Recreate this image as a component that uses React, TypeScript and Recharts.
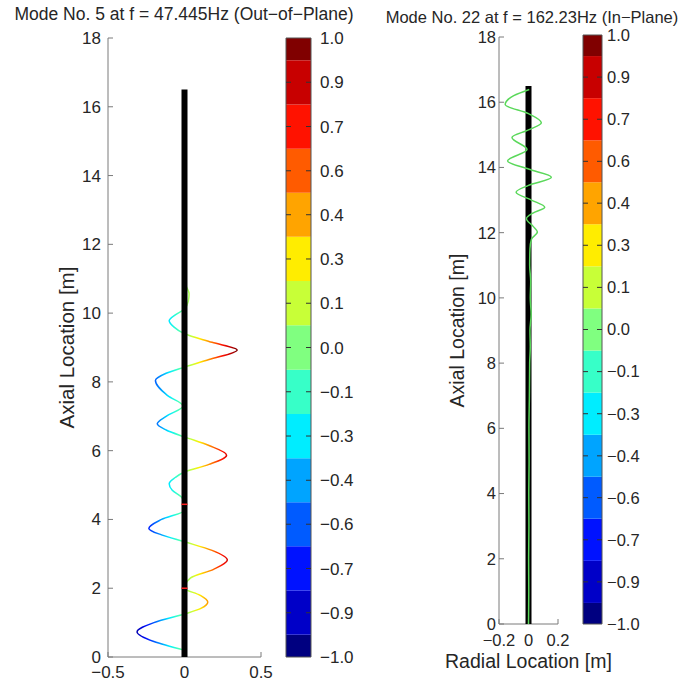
import React from 'react';
import { ScatterChart, Scatter, XAxis, YAxis, ReferenceArea } from 'recharts';

// values
const axialTicks = [0, 2, 4, 6, 8, 10, 12, 14, 16, 18];
const oopRadialTicks = [-0.5, 0, 0.5];
const ipRadialTicks = [-0.2, 0, 0.2];
const colorLevels = [-1, -0.857, -0.714, -0.571, -0.429, -0.286, -0.143, 0, 0.143, 0.286, 0.429, 0.571, 0.714, 0.857, 1];

// mode 5, out-of-plane
const mode5Axial = [0.2, 0.45, 0.73, 1.0, 1.25, 1.42, 1.6, 1.8, 2.0, 2.3, 2.55, 2.82, 3.1, 3.35, 3.55, 3.74, 4.0, 4.27, 4.44, 4.65, 4.85, 5.04, 5.22, 5.38, 5.6, 5.87, 6.15, 6.4, 6.6, 6.78, 7.0, 7.3, 7.6, 8.04, 8.25, 8.43, 8.65, 8.93, 9.15, 9.4, 9.6, 9.78, 9.95, 10.12, 10.35, 10.56, 10.8, 11.0, 11.33, 11.6];
const mode5Radial = [0, -0.2, -0.31, -0.2, 0, 0.11, 0.152, 0.1, 0, 0.04, 0.19, 0.28, 0.18, 0, -0.15, -0.233, -0.15, 0, 0, -0.02, -0.08, -0.1, -0.06, 0, 0.16, 0.275, 0.16, 0, -0.12, -0.178, -0.12, -0.01, -0.11, -0.19, -0.12, 0, 0.16, 0.344, 0.18, 0, -0.07, -0.1, -0.06, 0, 0.025, 0.03, 0.01, 0, -0.012, 0];
const mode5Nodes = [2.0, 4.44];

// mode 22, in-plane
const mode22Axial = [0, 1, 2, 3, 4, 5, 6, 7, 8, 8.5, 9, 9.5, 10, 10.5, 11, 11.5, 11.8, 12.02, 12.2, 12.43, 12.6, 12.78, 13.0, 13.24, 13.45, 13.7, 13.95, 14.2, 14.55, 14.92, 15.15, 15.37, 15.65, 15.93, 16.2, 16.39];
const mode22Radial = [0, 0.002, 0.001, 0.003, 0.002, 0.004, 0.003, 0.006, 0.008, 0.012, 0.01, 0.018, 0.012, 0.015, 0.008, 0.01, 0.02, 0.06, 0.03, -0.014, 0.03, 0.11, 0.02, -0.084, 0, 0.155, 0, -0.142, -0.01, -0.112, 0, 0.087, 0, -0.158, -0.1, 0.005];

const beamAxial = [0, 16.5];

const AXIS = '#7a7a7a';
const INK = '#262626';
const FONT = '"Liberation Sans", Arial, Helvetica, sans-serif';
// jet, one colour per colorbar level (bottom to top)
const JET = ['#000080', '#0000c8', '#0012ff', '#005bff', '#00a4ff', '#00edff', '#37ffc8', '#80ff80', '#c8ff37', '#ffed00', '#ffa400', '#ff5b00', '#ff1200', '#c80000', '#800000'];

const num = (v: number, d?: number) => {
  const s = d == null ? String(Math.abs(v)) : Math.abs(v).toFixed(d);
  return v < 0 ? '\u2212' + s : s;
};

const pts = (ax: number[], rad: number[]) => ax.map((a, i) => ({ axial: a, radial: rad[i] }));
const mode5 = pts(mode5Axial, mode5Radial);
const mode22 = pts(mode22Axial, mode22Radial);
const beam = beamAxial.map((a) => ({ axial: a, radial: 0 }));
const nodes = mode5Nodes.map((a) => ({ axial: a, radial: 0 }));

const hidden = () => <g />;
const redDash = (p: any) => (
  <line x1={p.cx - 3} x2={p.cx + 3} y1={p.cy} y2={p.cy} stroke="#ff2020" strokeWidth={1.5} />
);
// colorbar tick dashes, pointing inward from either edge
const dashRight = (p: any) => <line x1={p.cx} x2={p.cx + 5} y1={p.cy} y2={p.cy} stroke="#333" strokeWidth={1} />;
const dashLeft = (p: any) => <line x1={p.cx - 5} x2={p.cx} y1={p.cy} y2={p.cy} stroke="#333" strokeWidth={1} />;

// gradient across the curve's own bounding box, jet spanning +-max|radial|
const minR = Math.min(...mode5Radial);
const maxR = Math.max(...mode5Radial);
const M = Math.max(Math.abs(minR), Math.abs(maxR));
const gx1 = (-M - minR) / (maxR - minR);
const gx2 = (M - minR) / (maxR - minR);

function frameAxes(o: {
  radialTicks: number[];
  xAxisHeight: number;
  yAxisWidth: number;
  xTickMargin: number;
  yTickMargin: number;
  fontSize: number;
  yLabelSize: number;
  xLabel?: string;
  xLabelSize?: number;
}) {
  const dom = [o.radialTicks[0], o.radialTicks[o.radialTicks.length - 1]];
  const tick = { fontSize: o.fontSize, fill: INK };
  return [
    <XAxis key="xb" xAxisId="b" type="number" dataKey="radial" domain={dom} ticks={o.radialTicks} interval={0}
      tickFormatter={(v) => num(v)} tickSize={-5} tickMargin={o.xTickMargin} tick={tick} stroke={AXIS}
      height={o.xAxisHeight} allowDataOverflow
      label={o.xLabel ? { value: o.xLabel, position: 'insideBottom', offset: 11, style: { fontSize: o.xLabelSize, fill: INK } } : undefined} />,
    <XAxis key="xt" xAxisId="t" orientation="top" type="number" dataKey="radial" domain={dom} ticks={o.radialTicks}
      interval={0} tick={false} tickSize={-5} height={0} stroke={AXIS} allowDataOverflow />,
    <YAxis key="yl" yAxisId="l" type="number" dataKey="axial" domain={[0, 18]} ticks={axialTicks} interval={0}
      tickSize={-5} tickMargin={o.yTickMargin} tick={tick} stroke={AXIS} width={o.yAxisWidth} allowDataOverflow
      label={{ value: 'Axial Location [m]', angle: -90, position: 'center', style: { fontSize: o.yLabelSize, fill: INK } }} />,
    <YAxis key="yr" yAxisId="r" orientation="right" type="number" dataKey="axial" domain={[0, 18]} ticks={axialTicks}
      interval={0} tick={false} tickSize={-5} width={0} stroke={AXIS} allowDataOverflow />,
  ];
}

function ColorBar(p: { left: number; top: number; bottom: number; barLeft: number; barWidth: number; width: number; labelGap: number; fontSize: number }) {
  const edges = colorLevels.map((v, i) => [
    i === 0 ? v : (v + colorLevels[i - 1]) / 2,
    i === colorLevels.length - 1 ? v : (v + colorLevels[i + 1]) / 2,
  ]);
  const inner = colorLevels.slice(1, -1);
  const leftPts = inner.map((v) => ({ x: 0, y: v }));
  const rightPts = inner.map((v) => ({ x: 1, y: v }));
  return (
    <div style={{ position: 'absolute', left: p.left, top: 0 }}>
      <ScatterChart width={p.width} height={679}
        margin={{ top: p.top, bottom: 679 - p.bottom, left: p.barLeft, right: p.width - p.barLeft - p.barWidth - 45 }}>
        <XAxis xAxisId="b" type="number" dataKey="x" domain={[0, 1]} hide />
        <YAxis yAxisId="r" orientation="right" type="number" dataKey="y" domain={[-1, 1]} ticks={colorLevels} interval={0}
          width={45} tickSize={0} axisLine={false} tickLine={false} tickMargin={p.labelGap} tickFormatter={(v) => num(v, 1)}
          tick={{ fontSize: p.fontSize, fill: INK, textAnchor: 'start' }} />
        {edges.map(([lo, hi], i) => (
          <ReferenceArea key={i} xAxisId="b" yAxisId="r" y1={lo} y2={hi} fill={JET[i]} fillOpacity={1} stroke="none" />
        ))}
        <ReferenceArea xAxisId="b" yAxisId="r" y1={-1} y2={1} fill="none" stroke="#555" strokeWidth={1} />
        <Scatter xAxisId="b" yAxisId="r" data={leftPts} dataKey="y" shape={dashRight} isAnimationActive={false} />
        <Scatter xAxisId="b" yAxisId="r" data={rightPts} dataKey="y" shape={dashLeft} isAnimationActive={false} />
      </ScatterChart>
    </div>
  );
}

export default function App() {
  return (
    <div style={{ position: 'absolute', left: 0, top: 0, width: 696, height: 679, background: '#fff', fontFamily: FONT, overflow: 'hidden' }}>
      <div style={{ position: 'absolute', left: 0, top: 4, width: 368, textAlign: 'center', fontSize: 17.5, color: INK, whiteSpace: 'nowrap' }}>
        Mode No. 5 at f = 47.445Hz (Out{'\u2212'}of{'\u2212'}Plane)
      </div>
      <div style={{ position: 'absolute', left: 380, top: 8, width: 304, textAlign: 'center', fontSize: 16.5, color: INK, whiteSpace: 'nowrap' }}>
        Mode No. 22 at f = 162.23Hz (In{'\u2212'}Plane)
      </div>

      {/* out-of-plane mode */}
      <div style={{ position: 'absolute', left: 0, top: 0 }}>
        <ScatterChart width={290} height={679} margin={{ top: 38, right: 29, bottom: 0, left: 26 }}>
          <defs>
            <linearGradient id="jetH" gradientUnits="objectBoundingBox" x1={gx1} x2={gx2} y1={0} y2={0}>
              {JET.map((c, i) => <stop key={i} offset={i / (JET.length - 1)} stopColor={c} />)}
            </linearGradient>
          </defs>
          {frameAxes({ radialTicks: oopRadialTicks, xAxisHeight: 22, yAxisWidth: 82, xTickMargin: 14, yTickMargin: 12, fontSize: 17, yLabelSize: 20.5 })}
          <Scatter xAxisId="b" yAxisId="l" data={mode5} dataKey="axial" shape={hidden} line={{ stroke: 'url(#jetH)', strokeWidth: 1.5 }}
            lineJointType="monotoneY" isAnimationActive={false} />
          <Scatter xAxisId="t" yAxisId="r" data={beam} dataKey="axial" shape={hidden} line={{ stroke: '#000', strokeWidth: 6 }}
            isAnimationActive={false} />
          <Scatter xAxisId="b" yAxisId="l" data={nodes} dataKey="axial" shape={redDash} isAnimationActive={false} />
        </ScatterChart>
      </div>
      <ColorBar left={280} top={38} bottom={657} barLeft={6} barWidth={25} width={90} labelGap={9} fontSize={17} />

      {/* in-plane mode */}
      <div style={{ position: 'absolute', left: 400, top: 0 }}>
        <ScatterChart width={260} height={679} margin={{ top: 37, right: 102, bottom: 0, left: 15 }}>
          {frameAxes({ radialTicks: ipRadialTicks, xAxisHeight: 55, yAxisWidth: 84, xTickMargin: 15, yTickMargin: 8, fontSize: 16.5, yLabelSize: 19.5, xLabel: 'Radial Location [m]', xLabelSize: 19.5 })}
          <Scatter xAxisId="t" yAxisId="r" data={beam} dataKey="axial" shape={hidden} line={{ stroke: '#000', strokeWidth: 6 }}
            isAnimationActive={false} />
          <Scatter xAxisId="b" yAxisId="l" data={mode22} dataKey="axial" shape={hidden} line={{ stroke: '#5ad85a', strokeWidth: 1.5 }}
            lineJointType="monotoneY" isAnimationActive={false} />
        </ScatterChart>
      </div>
      <ColorBar left={575} top={35} bottom={624} barLeft={8} barWidth={19} width={100} labelGap={5} fontSize={16.5} />
    </div>
  );
}
